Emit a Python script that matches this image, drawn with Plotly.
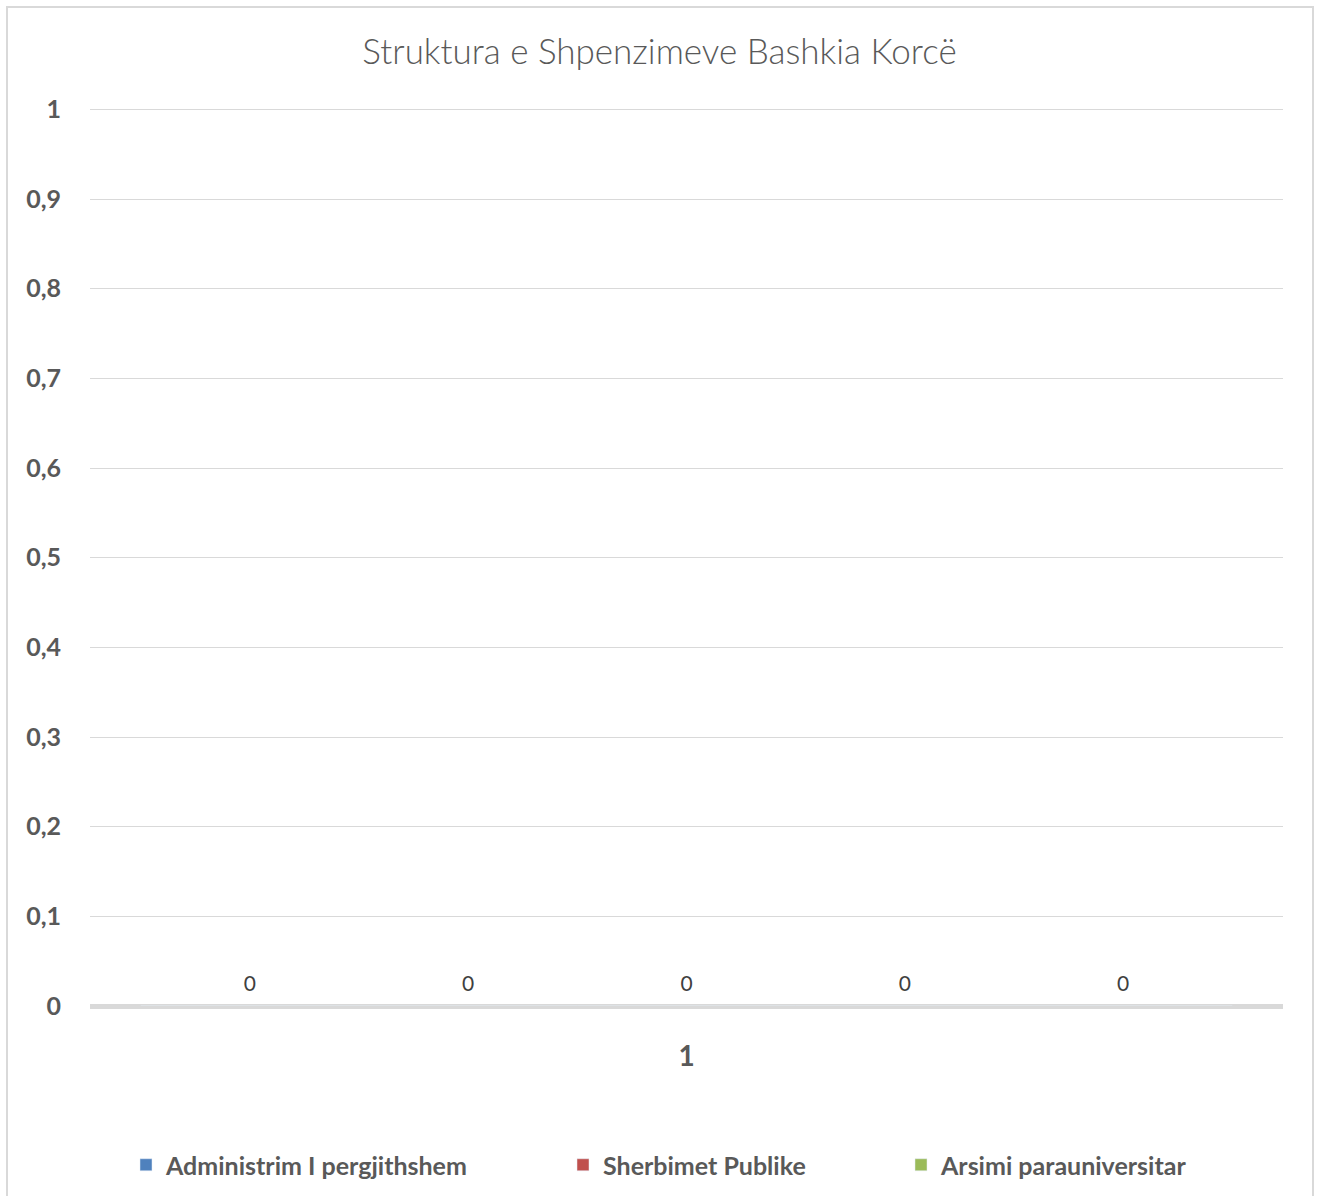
import plotly.graph_objects as go

categories = ["1"]
series_names = ["Administrim I pergjithshem", "Sherbimet Publike", "Arsimi parauniversitar", "Seria 4", "Seria 5"]
series_values = [[0], [0], [0], [0], [0]]
series_colors = ["#4f81bd", "#c0504d", "#9bbb59", "#8064a2", "#4bacc6"]
y_ticks = [0, 0.1, 0.2, 0.3, 0.4, 0.5, 0.6, 0.7, 0.8, 0.9, 1]

W, H = 1319, 1196
L, R, T, B = 90, 36, 108, 190
pw, ph = W - L - R, H - T - B

def px_x(x):
    return (x - L) / pw

def px_y(y):
    return (H - B - y) / ph

font_fam = "Lato, Open Sans, sans-serif"

fig = go.Figure()
legend_ids = ["legend", "legend2", "legend3"]
for i, (name, vals, col) in enumerate(zip(series_names, series_values, series_colors)):
    fig.add_trace(go.Bar(
        x=categories, y=vals, name=name,
        marker=dict(color=col),
        text=[f"<span style='font-size:21px'>{v}</span><br> " for v in vals],
        textposition="outside",
        textfont=dict(family=font_fam, size=8, color="#404040"),
        cliponaxis=False,
        showlegend=i < 3,
        legend=legend_ids[i] if i < 3 else "legend",
    ))

leg_text_x = [166, 603, 941]
legend_common = dict(orientation="h", xanchor="left", yanchor="middle",
                     font=dict(family=font_fam, size=25, color="#595959", weight="bold"),
                     bgcolor="rgba(0,0,0,0)", itemwidth=30)
layout_leg = {}
for lid, lx in zip(legend_ids, leg_text_x):
    layout_leg[lid] = dict(legend_common, x=px_x(lx - 40), y=px_y(1165))

fig.update_layout(
    width=W, height=H,
    margin=dict(l=L, r=R, t=T, b=B, autoexpand=False),
    paper_bgcolor="white", plot_bgcolor="white",
    separators=", ",
    barmode="group", bargap=0.085, bargroupgap=0,
    title=dict(text="Struktura e Shpenzimeve Bashkia Korcë", x=0.5, xanchor="center",
               y=1 - 52 / H, yanchor="middle",
               font=dict(family=font_fam, size=35, color="#595959", weight=300)),
    xaxis=dict(type="category", showgrid=False, ticks="", showline=False,
               tickfont=dict(family=font_fam, size=28, color="#595959", weight="bold"),
               ticklabelstandoff=31),
    yaxis=dict(range=[0, 1.0015], tickvals=y_ticks, showgrid=True, gridcolor="#d9d9d9", gridwidth=1,
               zeroline=True, zerolinecolor="#d9d9d9", zerolinewidth=5, showline=False,
               ticks="", ticklabelstandoff=28,
               tickfont=dict(family=font_fam, size=25, color="#595959", weight="bold")),
    shapes=[dict(type="rect", xref="paper", yref="paper",
                 x0=px_x(7), x1=px_x(1313), y0=px_y(1230), y1=px_y(7),
                 line=dict(color="#d9d9d9", width=2), layer="below")],
    **layout_leg,
)

fig.write_html("out.html", config={"displayModeBar": False},
               post_script="document.body.style.margin='0';")
